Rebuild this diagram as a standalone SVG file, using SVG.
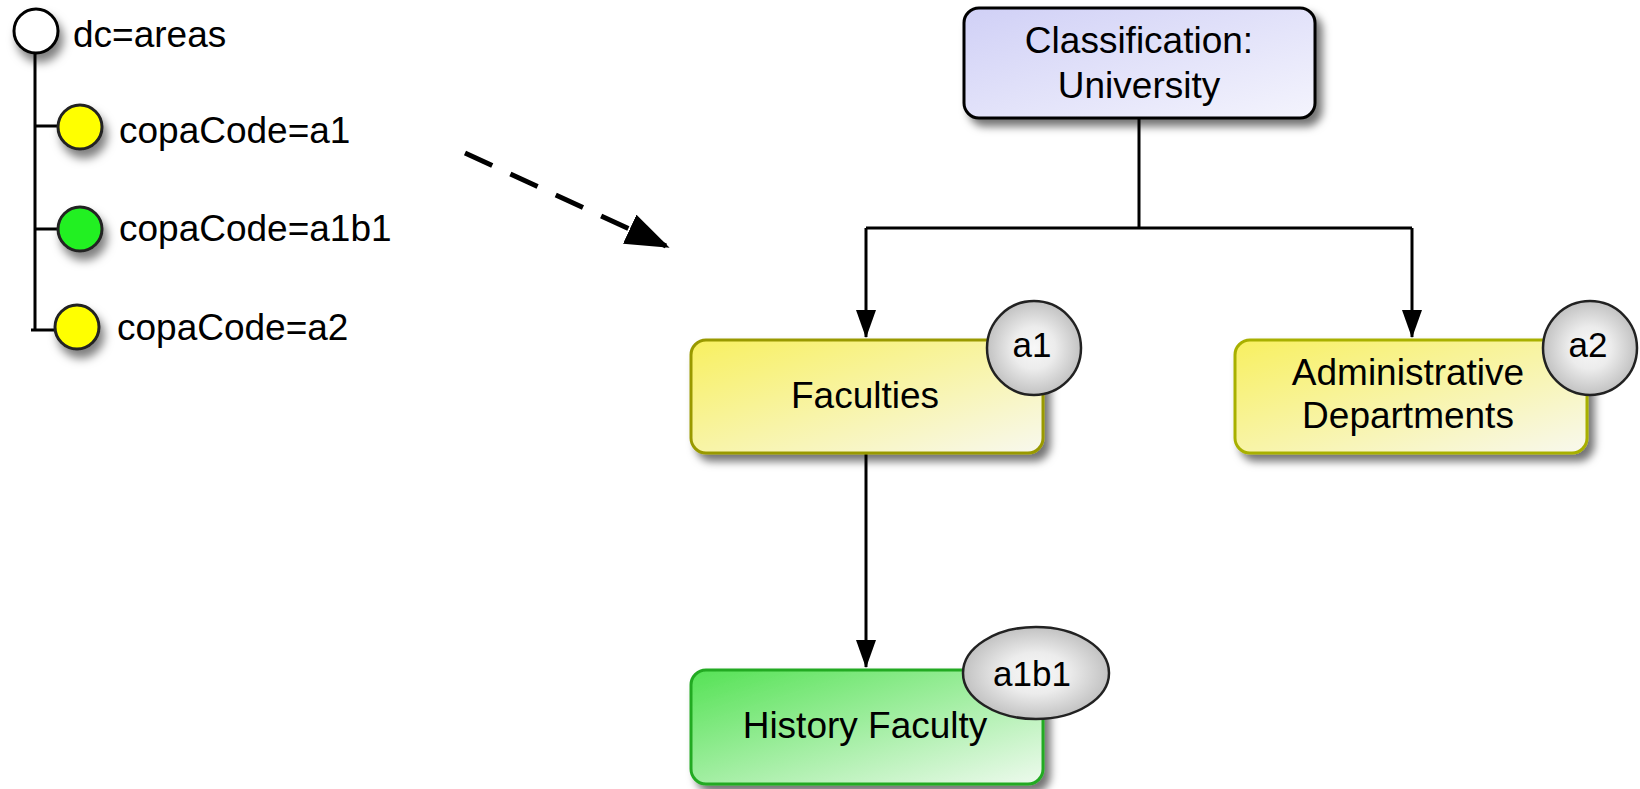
<svg xmlns="http://www.w3.org/2000/svg" width="1640" height="789" viewBox="0 0 1640 789">
  <style>
    text { font-family: "Liberation Sans", Arial, sans-serif; fill: #000; }
    .lbl { font-size: 37px; }
    .ctr { text-anchor: middle; }
    .badge-t { font-size: 35px; text-anchor: middle; }
    .conn { stroke: #000; stroke-width: 3; fill: none; }
    .tree { stroke: #000; stroke-width: 3; fill: none; }
  </style>
  <defs>
    <filter id="sh" x="-20%" y="-20%" width="150%" height="160%">
      <feDropShadow dx="6" dy="7" stdDeviation="4" flood-color="#000" flood-opacity="0.55"/>
    </filter>
    <filter id="shc" x="-50%" y="-50%" width="220%" height="220%">
      <feDropShadow dx="4" dy="8" stdDeviation="5" flood-color="#000" flood-opacity="0.5"/>
    </filter>
    <linearGradient id="gBlue" x1="0" y1="0" x2="1" y2="1">
      <stop offset="0" stop-color="#d0d0f6"/>
      <stop offset="1" stop-color="#f4f4fd"/>
    </linearGradient>
    <linearGradient id="gYel" x1="0" y1="0" x2="1" y2="1">
      <stop offset="0" stop-color="#f8f060"/>
      <stop offset="1" stop-color="#f8f8ee"/>
    </linearGradient>
    <linearGradient id="gGrn" x1="0" y1="0" x2="1" y2="1">
      <stop offset="0" stop-color="#55e255"/>
      <stop offset="1" stop-color="#eefaee"/>
    </linearGradient>
    <radialGradient id="gBadge" cx="0.5" cy="0.5" r="0.5">
      <stop offset="0" stop-color="#f8f8f8"/>
      <stop offset="0.45" stop-color="#ececec"/>
      <stop offset="1" stop-color="#c2c2c2"/>
    </radialGradient>
    <marker id="arr" viewBox="0 0 28 20" refX="27" refY="10" markerWidth="28" markerHeight="20" markerUnits="userSpaceOnUse" orient="auto">
      <path d="M0,0 L28,10 L0,20 Z" fill="#000"/>
    </marker>
    <marker id="arrBig" viewBox="0 0 44 32" refX="40" refY="16" markerWidth="44" markerHeight="32" markerUnits="userSpaceOnUse" orient="auto">
      <path d="M0,0 L44,16 L0,32 Z" fill="#000"/>
    </marker>
  </defs>

  <!-- Left tree -->
  <g id="tree">
    <path class="tree" d="M35,52 V330 M35,126 H58 M35,229 H58 M31,330 H55"/>
    <g id="t-root">
      <circle cx="36" cy="31" r="22" fill="#fff" stroke="#000" stroke-width="3" filter="url(#shc)"/>
      <text class="lbl" x="73" y="47">dc=areas</text>
    </g>
    <g id="t-a1">
      <circle cx="80" cy="127" r="22" fill="#ffff00" stroke="#222" stroke-width="3" filter="url(#shc)"/>
      <text class="lbl" x="119" y="143">copaCode=a1</text>
    </g>
    <g id="t-a1b1">
      <circle cx="80" cy="229" r="22" fill="#22f022" stroke="#222" stroke-width="3" filter="url(#shc)"/>
      <text class="lbl" x="119" y="241">copaCode=a1b1</text>
    </g>
    <g id="t-a2">
      <circle cx="77" cy="327" r="22" fill="#ffff00" stroke="#222" stroke-width="3" filter="url(#shc)"/>
      <text class="lbl" x="117" y="340">copaCode=a2</text>
    </g>
  </g>

  <!-- Connectors -->
  <g id="connectors">
    <line x1="465" y1="153" x2="666" y2="246" stroke="#000" stroke-width="5" stroke-dasharray="30 20" marker-end="url(#arrBig)"/>
    <path class="conn" d="M1139,118 V228 M866,228 H1412"/>
    <path class="conn" d="M866,228 V337" marker-end="url(#arr)"/>
    <path class="conn" d="M1412,228 V337" marker-end="url(#arr)"/>
    <path class="conn" d="M866,453 V667" marker-end="url(#arr)"/>
  </g>

  <!-- Nodes -->
  <g id="n-university">
    <rect x="964" y="8" width="351" height="110" rx="15" fill="url(#gBlue)" stroke="#000" stroke-width="3" filter="url(#sh)"/>
    <text class="lbl ctr" x="1139" y="53">Classification:</text>
    <text class="lbl ctr" x="1139" y="98">University</text>
  </g>

  <g id="n-faculties">
    <rect x="691" y="340" width="352" height="113" rx="15" fill="url(#gYel)" stroke="#999900" stroke-width="3" filter="url(#sh)"/>
    <text class="lbl ctr" x="865" y="408">Faculties</text>
    <g id="b-a1">
      <circle cx="1034" cy="348" r="47" fill="url(#gBadge)" stroke="#222" stroke-width="2.5"/>
      <text class="badge-t" x="1032" y="357">a1</text>
    </g>
  </g>

  <g id="n-admin">
    <rect x="1235" y="340" width="352" height="113" rx="15" fill="url(#gYel)" stroke="#a8b000" stroke-width="3" filter="url(#sh)"/>
    <text class="lbl ctr" x="1408" y="385">Administrative</text>
    <text class="lbl ctr" x="1408" y="428">Departments</text>
    <g id="b-a2">
      <circle cx="1590" cy="348" r="47" fill="url(#gBadge)" stroke="#222" stroke-width="2.5"/>
      <text class="badge-t" x="1588" y="357">a2</text>
    </g>
  </g>

  <g id="n-history">
    <rect x="691" y="670" width="352" height="114" rx="15" fill="url(#gGrn)" stroke="#22aa22" stroke-width="3" filter="url(#sh)"/>
    <text class="lbl ctr" x="865" y="738">History Faculty</text>
    <g id="b-a1b1">
      <ellipse cx="1036" cy="673" rx="73" ry="46" fill="url(#gBadge)" stroke="#222" stroke-width="2.5"/>
      <text class="badge-t" x="1032" y="686">a1b1</text>
    </g>
  </g>
</svg>
